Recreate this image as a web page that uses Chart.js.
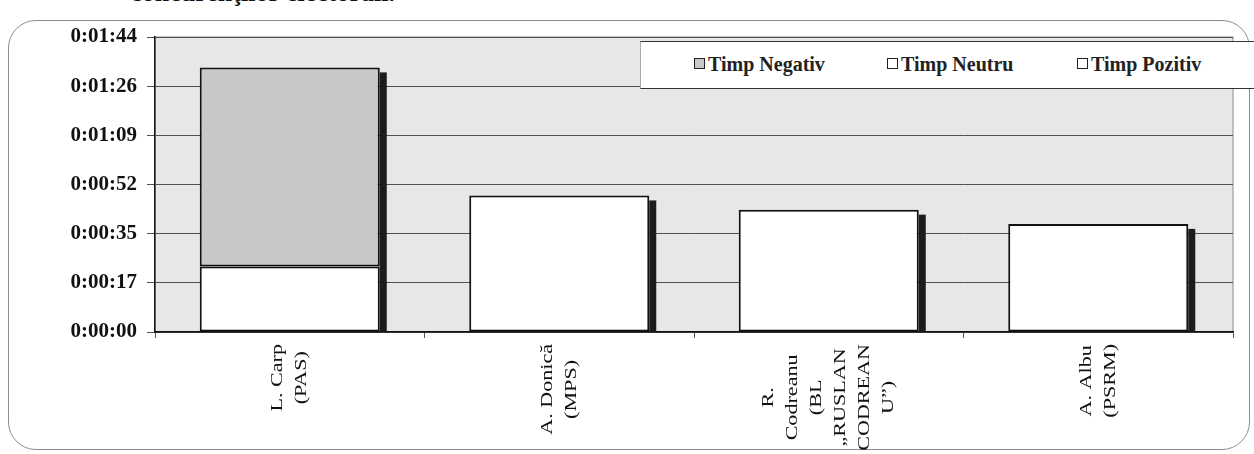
<!DOCTYPE html>
<html>
<head>
<meta charset="utf-8">
<script src="https://cdn.jsdelivr.net/npm/chart.js@4"></script>
<style>
  html, body { margin: 0; padding: 0; background: #fff; }
  #wrap { position: relative; width: 1254px; height: 454px; overflow: hidden; font-family: "Liberation Serif", "Times New Roman", serif; }
  #frame { position: absolute; left: 8px; top: 20px; width: 1240px; height: 428px; border: 1.5px solid #8c8c8c; border-radius: 28px; }
  #title { position: absolute; right: 859px; top: -20px; font: bold 26px/26px "Liberation Serif", serif; color: #111; white-space: nowrap; }
  #legend { position: absolute; left: 640px; top: 41px; width: 614px; height: 46px; background: #fff; border-top: 1.5px solid #333; border-bottom: 1.5px solid #333; border-left: 1px solid #aaa; }
  .item { position: absolute; top: 11px; font: bold 20px "Liberation Serif", serif; color: #222; white-space: nowrap; }
  .box { display: inline-block; width: 9px; height: 9px; border: 1.5px solid #222; margin-right: 3px; vertical-align: 2px; }
  canvas { position: absolute; left: 0; top: 0; }
</style>
</head>
<body>
<div id="wrap">
  <div id="frame"></div>
  <div id="title">concurenţilor electorali.</div>
  <canvas id="c" width="1254" height="454"></canvas>
  <div id="legend"></div>
</div>
<script>
// categories (multi-line, as in the original)
const categories = [
  ['L. Carp', '(PAS)'],
  ['A. Donică', '(MPS)'],
  ['R.', 'Codreanu', '(BL', '„RUSLAN', 'CODREAN', 'U”)'],
  ['A. Albu', '(PSRM)']
];
// seconds
const timpNeutru  = [23, 48, 43, 38];
const timpNegativ = [70, 0, 0, 0];
const timpPozitiv = [0, 0, 0, 0];

const seriesNames = ['Timp Negativ', 'Timp Neutru', 'Timp Pozitiv'];
const seriesColors = ['#c8c8c8', '#ffffff', '#ffffff'];

// axis: 0 .. 0:01:44, step 0.0002 day
const yMax = 103.68;
const yStep = 17.28;

function fmtTime(v) {
  const s = Math.round(v);
  const h = Math.floor(s / 3600);
  const m = Math.floor((s % 3600) / 60);
  const ss = s % 60;
  return h + ':' + String(m).padStart(2, '0') + ':' + String(ss).padStart(2, '0');
}

// legend
const legend = document.getElementById('legend');
const legendLeft = [53, 246, 436];
seriesNames.forEach((n, i) => {
  const d = document.createElement('div');
  d.className = 'item';
  d.style.left = legendLeft[i] + 'px';
  d.innerHTML = '<span class="box" style="background:' + seriesColors[i] + '"></span>' + n;
  legend.appendChild(d);
});

const plotBg = {
  id: 'plotBg',
  beforeDraw(chart) {
    const { ctx, chartArea: a } = chart;
    ctx.save();
    ctx.fillStyle = '#e7e7e7';
    ctx.fillRect(a.left, a.top, a.right - a.left, a.bottom - a.top);
    ctx.strokeStyle = '#8a8a8a';
    ctx.lineWidth = 1;
    ctx.strokeRect(a.left, a.top, a.right - a.left, a.bottom - a.top);
    ctx.restore();
  }
};

// dark 3d side of each column
const barShadow = {
  id: 'barShadow',
  beforeDatasetsDraw(chart) {
    const ctx = chart.ctx;
    const metas = chart.getSortedVisibleDatasetMetas();
    ctx.save();
    ctx.fillStyle = '#1c1c1c';
    categories.forEach((_, i) => {
      let top = null, x = 0, w = 0, base = 0;
      metas.forEach(m => {
        const el = m.data[i];
        const v = chart.data.datasets[m.index].data[i];
        if (!el || !v) return;
        const p = el.getProps(['x', 'y', 'base', 'width'], true);
        if (top === null || p.y < top) top = p.y;
        x = p.x; w = p.width;
        base = Math.max(base, p.base);
      });
      if (top === null) return;
      ctx.fillRect(x + w / 2, top + 5, 7, base - top - 5);
    });
    ctx.restore();
  }
};

// rotated, centered category labels
const catLabels = {
  id: 'catLabels',
  afterDraw(chart) {
    const ctx = chart.ctx;
    const xs = chart.scales.x;
    const stretch = 1.3;
    const lineH = 24;
    ctx.save();
    ctx.font = '17px "Liberation Serif", serif';
    ctx.fillStyle = '#111';
    ctx.textAlign = 'center';
    ctx.textBaseline = 'middle';
    categories.forEach((lines, i) => {
      const x = xs.getPixelForValue(i);
      const maxW = Math.max(...lines.map(l => ctx.measureText(l).width)) * stretch;
      const cy = xs.top + 12 + maxW / 2;
      ctx.save();
      ctx.translate(x, cy);
      ctx.rotate(-Math.PI / 2);
      ctx.scale(stretch, 1);
      lines.forEach((l, k) => {
        ctx.fillText(l, 0, (k - (lines.length - 1) / 2) * lineH);
      });
      ctx.restore();
    });
    ctx.restore();
  }
};

new Chart(document.getElementById('c'), {
  type: 'bar',
  data: {
    labels: categories.map(c => c.join(' ')),
    datasets: [
      { label: seriesNames[1], data: timpNeutru, backgroundColor: seriesColors[1] },
      { label: seriesNames[0], data: timpNegativ, backgroundColor: seriesColors[0] },
      { label: seriesNames[2], data: timpPozitiv, backgroundColor: seriesColors[2] }
    ].map(d => Object.assign(d, {
      borderColor: '#111',
      borderWidth: 2,
      borderSkipped: false,
      barPercentage: 0.668,
      categoryPercentage: 1
    }))
  },
  options: {
    responsive: false,
    animation: false,
    layout: { padding: { left: 0, right: 21, top: 37, bottom: 0 } },
    plugins: { legend: { display: false }, tooltip: { enabled: false } },
    scales: {
      x: {
        stacked: true,
        offset: true,
        grid: { drawOnChartArea: false, drawTicks: true, tickLength: 6, color: '#555', offset: true },
        border: { color: '#111', width: 1.5 },
        ticks: { display: false },
        afterFit: s => { s.height = 122; }
      },
      y: {
        stacked: true,
        min: 0,
        max: yMax,
        grid: { color: '#505050', lineWidth: 1, tickLength: 8 },
        border: { color: '#111', width: 1.5 },
        ticks: {
          stepSize: yStep,
          padding: 10,
          color: '#111',
          font: { family: '"Liberation Serif", serif', size: 21, weight: 'bold' },
          callback: v => fmtTime(v)
        },
        afterFit: s => { s.width = 155; }
      }
    }
  },
  plugins: [plotBg, barShadow, catLabels]
});
</script>
</body>
</html>
